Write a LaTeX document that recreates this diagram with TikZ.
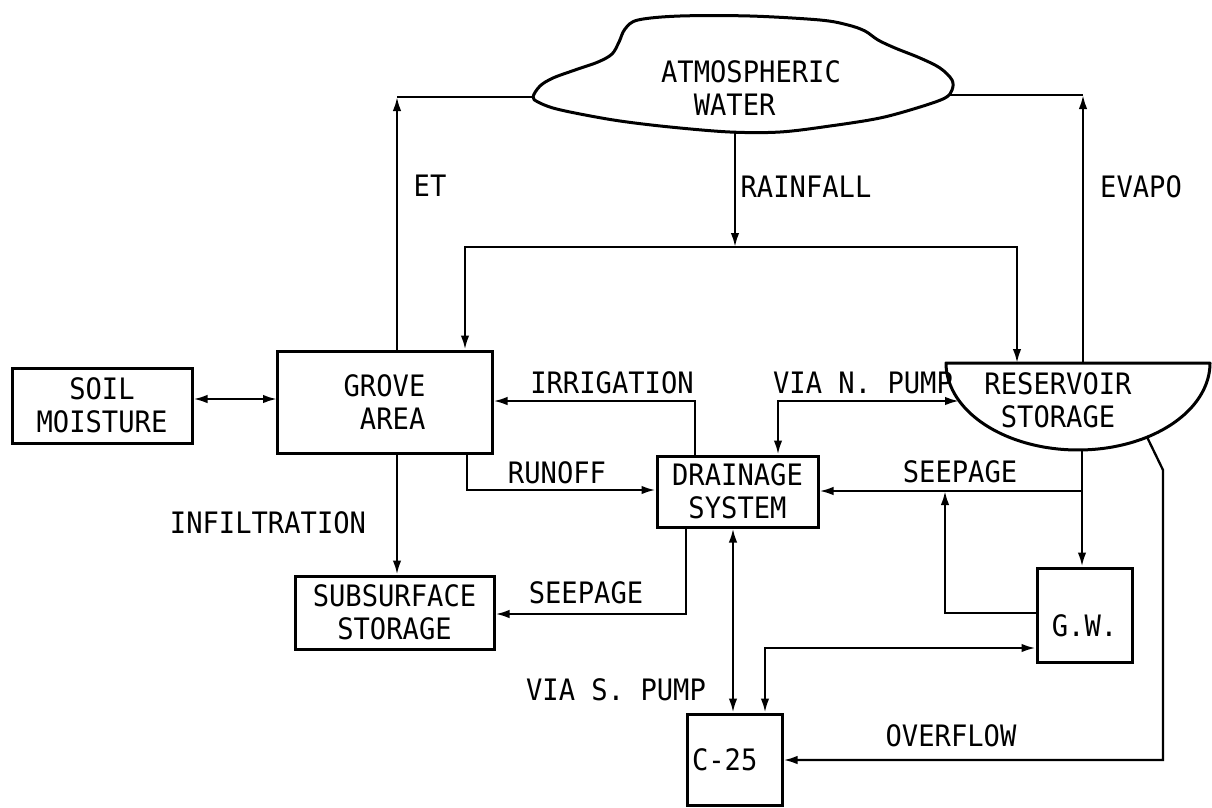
\documentclass[tikz,border=0pt]{standalone}
\usepackage{fontspec}
\newfontfamily\diagfont[FakeStretch=0.92]{DejaVu Sans Mono}
\usetikzlibrary{arrows.meta}
\begin{document}
\begin{tikzpicture}[x=1pt,y=-1pt,
  every node/.style={font=\diagfont\fontsize{29.5}{33}\selectfont, inner sep=0pt},
  box/.style={draw, line width=3pt, align=center},
  conn/.style={line width=2.3pt},
  arr/.style={conn, -{Latex[length=14pt,width=8.5pt]}},
  dbl/.style={conn, {Latex[length=14pt,width=8.5pt]}-{Latex[length=14pt,width=8.5pt]}},
  outline/.style={line width=3pt, line join=round}]
\useasboundingbox (0,0) rectangle (1212,807);

% cloud
\draw[outline] plot[smooth cycle, tension=0.55] coordinates {
  (533,97) (540,86) (553,78) (575,70) (598,62) (612,54) (619,42) (625,29)
  (638,20) (680,16) (750,16) (820,20) (848,25) (865,31) (878,40) (895,48)
  (920,58) (940,68) (952,80) (952,90) (945,98) (920,107) (880,118) (830,126)
  (780,132) (730,132) (670,127) (620,121) (580,114) (553,108) (538,102)};
\node[align=center] (atm) at (751,88.5) {ATMOSPHERIC\\WATER\phantom{XX}};

% reservoir bowl
\draw[outline] (1210,363) -- (946,363) --
  plot[domain=180:360, samples=90] ({1078+132*cos(\x)},{363-87*sin(\x)}) -- cycle;
\node[align=center] (res) at (1058,400.5) {RESERVOIR\\STORAGE};

% boxes
\node[box, minimum width=180pt, minimum height=75pt] (soil) at (102,405.5) {SOIL\\MOISTURE};
\node[box, minimum width=215pt, minimum height=102pt] (grove) at (384.5,402) {GROVE\\\phantom{X}AREA};
\node[box, minimum width=199pt, minimum height=73pt] (sub) at (394.5,612.5) {SUBSURFACE\\STORAGE};
\node[box, minimum width=161pt, minimum height=71pt] (drain) at (737.5,491.5) {DRAINAGE\\SYSTEM};
\node[box, minimum width=95pt, minimum height=94pt, text height=43pt, text depth=0pt] (gw) at (1084.5,615) {G.W.};
\node[box, minimum width=95pt, minimum height=91pt, text width=85pt, align=left] (c25) at (734.5,759.5) {C-25};

% labels
\node (lET) at (430,186) {ET};
\node (lRain) at (806,187) {RAINFALL};
\node (lEvapo) at (1141,187) {EVAPO};
\node (lIrr) at (612,383) {IRRIGATION};
\node (lNP) at (863,383) {VIA N. PUMP};
\node (lRun) at (557,473) {RUNOFF};
\node (lSeepU) at (960,472) {SEEPAGE};
\node (lInf) at (268,523) {INFILTRATION};
\node (lSeepL) at (586,593) {SEEPAGE};
\node (lSP) at (616,690) {VIA S. PUMP};
\node (lOver) at (951,736) {OVERFLOW};

% coordinates
\coordinate (cw) at (533,97);
\coordinate (ce) at (950,95);
\coordinate (cs) at (735,132);
\coordinate (etc) at (397,97);
\coordinate (evc) at (1083,95);
\coordinate (rj) at (735,247);
\coordinate (rl) at (465,247);
\coordinate (rr) at (1017,247);
\coordinate (rtl) at (946,363);
\coordinate (resL) at (959,401);
\coordinate (rb) at (1082,450);
\coordinate (g1) at (277,399);
\coordinate (ir) at (695,401);
\coordinate (np) at (778,401);
\coordinate (ro) at (467,490);
\coordinate (sl) at (686,614);
\coordinate (sp) at (733,0);
\coordinate (su) at (1082,491);
\coordinate (gs) at (945,613);
\coordinate (cg) at (765,648);
\coordinate (of1) at (1147,437);
\coordinate (of2) at (1163,470);
\coordinate (of3) at (1163,760);

% connectors
\draw[arr] (etc |- grove.north) -- (etc);
\draw[conn] (etc) -- (cw);
\draw[arr] (evc |- rtl) -- (evc);
\draw[conn] (evc) -- (ce);
\draw[arr] (cs) -- (rj);
\draw[arr] (rj) -| (rl |- grove.north);
\draw[arr] (rj) -| (rr |- rtl);
\draw[dbl] (soil.east |- g1) -- (g1);
\draw[arr] (ir |- drain.north) |- (grove.east |- ir);
\draw[dbl] (np |- drain.north) |- (resL);
\draw[arr] (ro |- grove.south) |- (drain.west |- ro);
\draw[arr] (etc |- grove.south) -- (etc |- sub.north);
\draw[arr] (sl |- drain.south) |- (sub.east |- sl);
\draw[dbl] (sp |- drain.south) -- (sp |- c25.north);
\draw[arr] (rb) -- (rb |- gw.north);
\draw[arr] (su) -- (drain.east |- su);
\draw[arr] (gw.west |- gs) -| (gs |- su);
\draw[dbl] (cg |- c25.north) |- (gw.west |- cg);
\draw[arr] (of1) -- (of2) -- (of3) -- (c25.east |- of3);
\end{tikzpicture}
\end{document}
